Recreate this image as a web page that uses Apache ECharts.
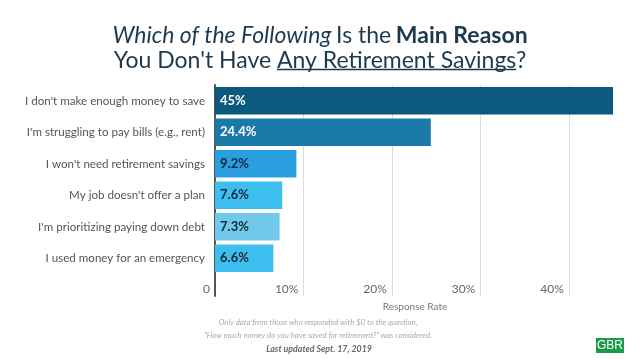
<!DOCTYPE html>
<html><head><meta charset="utf-8">
<script src="https://cdn.jsdelivr.net/npm/echarts@6/dist/echarts.min.js"></script>
<style>html,body{margin:0;padding:0;background:#fff}#c{width:640px;height:360px}</style>
</head><body><div id="c"></div>
<script>
const categories = [
  "I don't make enough money to save",
  "I'm struggling to pay bills (e.g., rent)",
  "I won't need retirement savings",
  "My job doesn't offer a plan",
  "I'm prioritizing paying down debt",
  "I used money for an emergency"
];
const values = [45, 24.4, 9.2, 7.6, 7.3, 6.6];
const barColors = ['#0b5a7e', '#1a7aa8', '#2a9fdf', '#3cbfef', '#70c8ea', '#3cbfef'];
const labelColors = ['#ffffff', '#ffffff', '#14283a', '#14283a', '#14283a', '#14283a'];
const xTicks = [0, 10, 20, 30, 40];

const FONT = 'Lato';
const titleColor = '#1c3a4f';
const titleSize = 23;

// measure text for the underline
const cv = document.createElement('canvas').getContext('2d');
function tw(t, w){ cv.font = (w||'normal') + ' ' + titleSize + 'px ' + FONT; return cv.measureText(t).width; }
const p1 = "You Don't Have ", p2 = "Any Retirement Savings", p3 = "?";
const total = tw(p1) + tw(p2) + tw(p3);
const ulStart = 320 - total/2 + tw(p1);
const ulEnd = ulStart + tw(p2);

const chart = echarts.init(document.getElementById('c'), null, {renderer:'canvas'});
chart.setOption({
  animation: false,
  backgroundColor: '#fff',
  textStyle: {fontFamily: FONT},
  title: [{
    left: 'center', top: 19,
    text: '{i|Which of the Following} {n|Is the} {b|Main Reason}',
    textStyle: {
      fontWeight: 'normal',
      rich: {
        i: {fontStyle:'italic', fontWeight:'normal', fontSize:titleSize, color:titleColor, fontFamily:FONT},
        n: {fontStyle:'normal', fontWeight:'normal', fontSize:titleSize, color:titleColor, fontFamily:FONT},
        b: {fontStyle:'normal', fontWeight:'bold', fontSize:titleSize, color:titleColor, fontFamily:FONT}
      }
    }
  },{
    left: 'center', top: 44,
    text: p1 + p2 + p3,
    textStyle: {fontSize:titleSize, fontWeight:'normal', color:titleColor, fontFamily:FONT}
  }],
  grid: [
    {left: 215, top: 85, width: 398, height: 189, containLabel: false},
    {left: 215, top: 85, width: 398, height: 211, containLabel: false}
  ],
  xAxis: [{
    gridIndex: 0, type: 'value', min: 0, max: 45, interval: 10,
    show: false
  },{
    gridIndex: 1, type: 'value', min: 0, max: 45, interval: 10,
    axisLine: {show:false}, axisTick: {show:false},
    splitLine: {show:true, showMaxLine:false, lineStyle:{color:'#dcdcdc', width:1}},
    axisLabel: {
      inside: true, align: 'right', margin: 1, showMaxLabel: false,
      padding: [0, 5, 0, 0],
      color: '#666', fontSize: 12, fontFamily: FONT,
      formatter: v => xTicks.includes(v) ? (v === 0 ? '0' : v + '%') : ''
    }
  }],
  yAxis: [{
    gridIndex: 0, type: 'category', data: categories, inverse: true,
    axisLine: {show:false}, axisTick: {show:false},
    axisLabel: {color:'#555', fontSize:11.6, margin:10, fontFamily:FONT}
  },{
    gridIndex: 1, type: 'value', min: 0, max: 1,
    axisLine: {show:true, lineStyle:{color:'#555', width:2}},
    axisTick: {show:false}, axisLabel: {show:false}, splitLine: {show:false}
  }],
  series: [{
    type: 'bar', xAxisIndex: 0, yAxisIndex: 0,
    barCategoryGap: '13%',
    data: values.map((v, i) => ({
      value: v,
      itemStyle: {color: barColors[i]},
      label: {color: labelColors[i]}
    })),
    label: {
      show: true, position: 'insideLeft', distance: 5,
      fontWeight: 'bold', fontSize: 13, fontFamily: FONT,
      formatter: p => p.value + '%'
    }
  }],
  graphic: [
    {type:'line', shape:{x1:ulStart, y1:69.5, x2:ulEnd, y2:69.5}, style:{stroke:titleColor, lineWidth:1.3}},
    {type:'text', x:415, y:307, style:{text:'Response Rate', fill:'#777', font:'10px ' + FONT, textAlign:'center', textVerticalAlign:'middle'}},
    {type:'text', x:318, y:322, style:{text:'Only data from those who responded with $0 to the question,', fill:'#aaa', font:'italic 7.8px ' + FONT, textAlign:'center', textVerticalAlign:'middle'}},
    {type:'text', x:318, y:335, style:{text:'"How much money do you have saved for retirement?" was considered.', fill:'#aaa', font:'italic 7.8px ' + FONT, textAlign:'center', textVerticalAlign:'middle'}},
    {type:'text', x:319, y:349, style:{text:'Last updated Sept. 17, 2019', fill:'#666', font:'italic bold 8.8px ' + FONT, textAlign:'center', textVerticalAlign:'middle'}},
    {type:'rect', shape:{x:596, y:338, width:28, height:15}, style:{fill:'#1b9a4b'}},
    {type:'text', x:610, y:345.5, style:{text:'GBR', fill:'#fff', font:'12px Liberation Sans', textAlign:'center', textVerticalAlign:'middle'}}
  ]
});
</script>
</body></html>
